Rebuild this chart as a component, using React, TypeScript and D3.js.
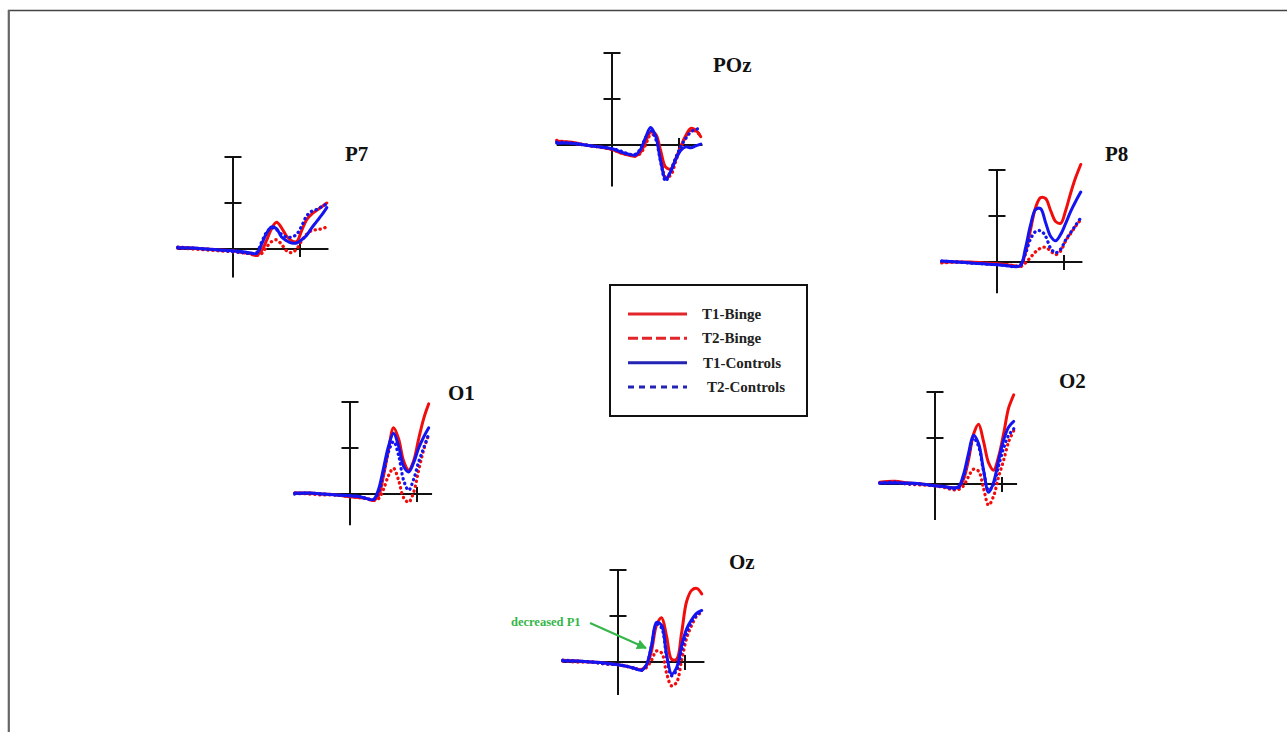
import React from 'react';
import * as d3 from 'd3';

// time points (ms) shared by all waveforms
const TIMES = [-165, -120, -80, -40, 0, 30, 50, 70, 85, 100, 115, 130, 145, 160, 175, 190, 205, 220, 235, 250, 265, 280];

const SERIES_NAMES = ['T1-Binge', 'T2-Binge', 'T1-Controls', 'T2-Controls'];

// amplitudes (µV), one array per electrode and condition
const POZ_T1B = [0.4, 0.3, 0, -0.2, -0.5, -0.9, -1.1, -1.2, -0.8, 0.3, 1.4, 1.2, -0.6, -2.4, -2.6, -1.5, -0.2, 1.0, 1.8, 1.6, 0.9];
const POZ_T2B = [0.5, 0.2, 0, -0.2, -0.5, -0.9, -1.1, -1.2, -0.9, 0.0, 1.1, 1.0, -1.0, -3.5, -3.3, -1.8, -0.3, 0.9, 1.6, 1.5, 1.0];
const POZ_T1C = [0.2, 0.2, 0, -0.2, -0.4, -0.8, -1.0, -1.1, -0.5, 0.8, 1.9, 1.0, -1.7, -3.7, -2.9, -1.6, -0.6, -0.2, -0.3, -0.1, 0.1];
const POZ_T2C = [0.3, 0.2, 0, -0.2, -0.4, -0.7, -1.0, -1.0, -0.4, 0.8, 1.6, 0.7, -1.8, -3.9, -2.8, -1.4, -0.2, 0.7, 1.4, 1.7, 1.8];

const P7_T1B = [0.2, 0.1, 0, -0.1, -0.2, -0.4, -0.5, -0.7, -0.2, 0.9, 2.2, 2.9, 2.3, 1.4, 0.9, 0.8, 2.0, 3.2, 3.8, 4.2, 4.6, 5.0];
const P7_T2B = [0.1, 0, -0.1, -0.2, -0.3, -0.4, -0.5, -0.7, -0.5, 0.2, 0.8, 1.0, 0.5, -0.2, -0.4, 0.0, 0.9, 1.6, 2.0, 2.1, 2.2, 2.4];
const P7_T1C = [0.1, 0.1, 0, -0.1, -0.2, -0.3, -0.4, -0.5, 0.5, 1.7, 2.4, 2.2, 1.3, 0.9, 0.65, 0.65, 1.0, 1.5, 2.3, 3.0, 3.7, 4.5];
const P7_T2C = [0.2, 0.1, 0, -0.1, -0.3, -0.4, -0.5, -0.4, 0.7, 1.8, 2.3, 2.1, 1.6, 1.3, 1.3, 1.6, 2.5, 3.6, 4.1, 4.3, 4.6, 4.9];

const P8_T1B = [0, 0, 0, -0.1, -0.2, -0.3, -0.4, -0.4, 1.0, 3.5, 5.9, 7.0, 6.9, 5.6, 4.4, 4.2, 5.6, 7.5, 9.2, 10.6];
const P8_T2B = [-0.1, 0, -0.1, -0.1, -0.2, -0.3, -0.4, -0.5, -0.1, 0.5, 1.1, 1.5, 1.6, 1.2, 0.8, 1.2, 2.3, 3.1, 3.9, 4.6];
const P8_T1C = [0.1, 0, -0.1, -0.2, -0.3, -0.4, -0.5, -0.4, 1.5, 4.0, 5.7, 5.8, 4.3, 2.8, 2.3, 3.0, 4.2, 5.5, 6.6, 7.6];
const P8_T2C = [0.1, 0, -0.1, -0.2, -0.3, -0.4, -0.5, -0.3, 0.9, 2.5, 3.3, 3.4, 2.8, 1.5, 1.0, 1.4, 2.4, 3.2, 4.0, 4.8];

const O1_T1B = [0.1, 0.1, 0, -0.1, -0.3, -0.4, -0.5, -0.7, -0.2, 2.0, 4.8, 7.2, 6.0, 3.6, 2.6, 3.6, 6.0, 8.2, 9.8];
const O1_T2B = [0.1, 0, -0.1, -0.1, -0.3, -0.4, -0.5, -0.7, -0.5, 0.5, 2.0, 2.8, 1.5, -0.4, -0.9, 0.2, 2.6, 4.8, 6.5];
const O1_T1C = [0.1, 0.1, 0, -0.1, -0.2, -0.3, -0.5, -0.6, 0.5, 2.8, 5.2, 6.6, 5.2, 3.0, 2.4, 3.4, 5.0, 6.2, 7.2];
const O1_T2C = [0, 0.1, 0, -0.1, -0.2, -0.3, -0.5, -0.6, 0.2, 2.3, 4.6, 5.7, 4.2, 1.5, 0.4, 1.6, 3.5, 5.0, 6.5];

const O2_T1B = [0.2, 0.3, 0.1, 0, -0.2, -0.3, -0.4, -0.4, 0.5, 2.6, 5.4, 6.5, 4.6, 2.3, 1.5, 3.0, 5.5, 8.3, 9.7];
const O2_T2B = [0.1, 0.2, 0, -0.1, -0.2, -0.4, -0.6, -0.6, -0.2, 0.8, 1.6, 1.4, -0.5, -2.3, -1.3, 0.8, 2.6, 4.6, 5.8];
const O2_T1C = [0.1, 0.1, 0.1, 0, -0.2, -0.3, -0.4, -0.3, 1.0, 3.3, 5.3, 4.4, 1.5, -0.9, 0.2, 2.6, 4.8, 6.2, 6.8];
const O2_T2C = [0.1, 0.2, 0, 0, -0.2, -0.3, -0.5, -0.4, 0.8, 3.0, 5.0, 4.1, 1.4, -0.7, 0.0, 2.0, 3.9, 5.3, 6.0];

const OZ_T1B = [0.2, 0.1, 0, -0.1, -0.3, -0.5, -0.7, -0.8, -0.4, 1.2, 4.0, 4.8, 2.8, 0.3, 0.3, 3.2, 6.6, 7.8, 8.0, 7.4];
const OZ_T2B = [0.1, 0, 0, -0.2, -0.3, -0.5, -0.7, -0.9, -0.6, 0.2, 1.2, 1.0, -1.2, -2.6, -2.2, 0.2, 2.6, 4.0, 5.0, 5.4];
const OZ_T1C = [0.1, 0.1, 0, -0.1, -0.3, -0.5, -0.7, -0.9, -0.3, 1.8, 4.3, 4.0, 0.8, -1.3, -0.6, 1.8, 3.6, 4.6, 5.3, 5.6];
const OZ_T2C = [0.2, 0.1, 0, -0.2, -0.3, -0.5, -0.7, -0.9, -0.3, 1.7, 4.1, 3.7, 0.6, -1.5, -0.9, 1.3, 3.2, 4.4, 5.1, 5.6];

const Y_TICKS = [5, 10];
const X_TICKS = [200];

const RED = '#f20d0d';
const BLUE = '#1414f0';
const GREEN = '#35b54a';

type Panel = {
  name: string;
  x0: number; y0: number;
  tEnd: number; vMin: number;
  lx: number; ly: number;
  series: number[][];
};

const PANELS: Panel[] = [
  { name: 'POz', x0: 612, y0: 145, tEnd: 270, vMin: -4.5, lx: 713, ly: 72, series: [POZ_T1B, POZ_T2B, POZ_T1C, POZ_T2C] },
  { name: 'P7', x0: 233, y0: 249, tEnd: 285, vMin: -3.1, lx: 345, ly: 161, series: [P7_T1B, P7_T2B, P7_T1C, P7_T2C] },
  { name: 'P8', x0: 997, y0: 262, tEnd: 255, vMin: -3.4, lx: 1105, ly: 161, series: [P8_T1B, P8_T2B, P8_T1C, P8_T2C] },
  { name: 'O1', x0: 350, y0: 494, tEnd: 245, vMin: -3.4, lx: 448, ly: 400, series: [O1_T1B, O1_T2B, O1_T1C, O1_T2C] },
  { name: 'O2', x0: 935, y0: 484, tEnd: 245, vMin: -3.9, lx: 1059, ly: 388, series: [O2_T1B, O2_T2B, O2_T1C, O2_T2C] },
  { name: 'Oz', x0: 618, y0: 662, tEnd: 258, vMin: -3.6, lx: 729, ly: 569, series: [OZ_T1B, OZ_T2B, OZ_T1C, OZ_T2C] },
];

const STYLES = [
  { color: RED, dash: null as string | null },
  { color: RED, dash: '0.3 4.7' },
  { color: BLUE, dash: null as string | null },
  { color: BLUE, dash: '0.3 4.7' },
];
const DRAW_ORDER = [1, 0, 3, 2];

const SERIF = "'Liberation Serif', 'Times New Roman', serif";

function PanelView({ p }: { p: Panel }) {
  const x = d3.scaleLinear().domain([0, 200]).range([p.x0, p.x0 + 67]);
  const y = d3.scaleLinear().domain([0, 5]).range([p.y0, p.y0 - 46]);
  const line = d3
    .line<[number, number]>()
    .x((d) => x(d[0]))
    .y((d) => y(d[1]))
    .curve(d3.curveCatmullRom.alpha(0.5));
  const yTop = Math.max(...Y_TICKS);
  return (
    <g>
      {/* y axis */}
      <line x1={x(0)} x2={x(0)} y1={y(yTop)} y2={y(p.vMin)} stroke="#111" strokeWidth={2} />
      {Y_TICKS.map((t) => (
        <line key={t} x1={x(0) - 8.5} x2={x(0) + 8.5} y1={y(t)} y2={y(t)} stroke="#111" strokeWidth={2} />
      ))}
      {/* x axis */}
      <line x1={x(TIMES[0])} x2={x(p.tEnd)} y1={y(0)} y2={y(0)} stroke="#111" strokeWidth={2} />
      {X_TICKS.map((t) => (
        <line key={t} x1={x(t)} x2={x(t)} y1={y(0) - 7} y2={y(0) + 8} stroke="#111" strokeWidth={2} />
      ))}
      {DRAW_ORDER.map((si) => {
        const vals = p.series[si];
        const pts: [number, number][] = vals.map((v, i) => [TIMES[i], v]);
        const st = STYLES[si];
        return (
          <path
            key={si}
            d={line(pts) || ''}
            fill="none"
            stroke={st.color}
            strokeWidth={st.dash ? 3.3 : 3}
            strokeDasharray={st.dash || undefined}
            strokeLinecap="round"
            strokeLinejoin="round"
          />
        );
      })}
      <text x={p.lx} y={p.ly} fontFamily={SERIF} fontWeight="bold" fontSize={21} fill="#111">
        {p.name}
      </text>
    </g>
  );
}

const LEGEND_STYLES = [
  { color: '#e2252b', dash: null as string | null, tx: 702 },
  { color: '#e2252b', dash: '10 4', tx: 702 },
  { color: '#2323b5', dash: null as string | null, tx: 703 },
  { color: '#2323b5', dash: '6 5', tx: 707 },
];

export default function App() {
  const legendY = d3.scalePoint<string>().domain(SERIES_NAMES).range([314, 387]);
  return (
    <svg
      width={1287}
      height={732}
      style={{ position: 'absolute', left: 0, top: 0, background: '#fff' }}
    >
      <rect x={0} y={0} width={1287} height={732} fill="#fff" />
      {/* frame */}
      <line x1={8} x2={1287} y1={10.5} y2={10.5} stroke="#444" strokeWidth={1.6} />
      <line x1={8.8} x2={8.8} y1={10} y2={732} stroke="#666" strokeWidth={2.2} />

      {PANELS.map((p) => (
        <PanelView key={p.name} p={p} />
      ))}

      {/* legend */}
      <rect x={610} y={285} width={197} height={131} fill="#fff" stroke="#111" strokeWidth={2} />
      {SERIES_NAMES.map((s, i) => {
        const yy = legendY(s) as number;
        const st = LEGEND_STYLES[i];
        return (
          <g key={s}>
            <line x1={628} x2={687} y1={yy} y2={yy} stroke={st.color} strokeWidth={3} strokeDasharray={st.dash || undefined} />
            <text x={st.tx} y={yy + 5} fontFamily={SERIF} fontWeight="bold" fontSize={15} fill="#222">
              {s}
            </text>
          </g>
        );
      })}

      {/* annotation */}
      <defs>
        <marker id="arrowG" viewBox="0 0 10 10" refX={9} refY={5} markerWidth={5} markerHeight={5} orient="auto">
          <path d="M0,0 L10,5 L0,10 z" fill={GREEN} />
        </marker>
      </defs>
      <text x={511} y={626} fontFamily={SERIF} fontWeight="bold" fontSize={12.5} fill={GREEN}>
        decreased P1
      </text>
      <line x1={590} y1={623} x2={646} y2={648} stroke={GREEN} strokeWidth={2} markerEnd="url(#arrowG)" />
    </svg>
  );
}
